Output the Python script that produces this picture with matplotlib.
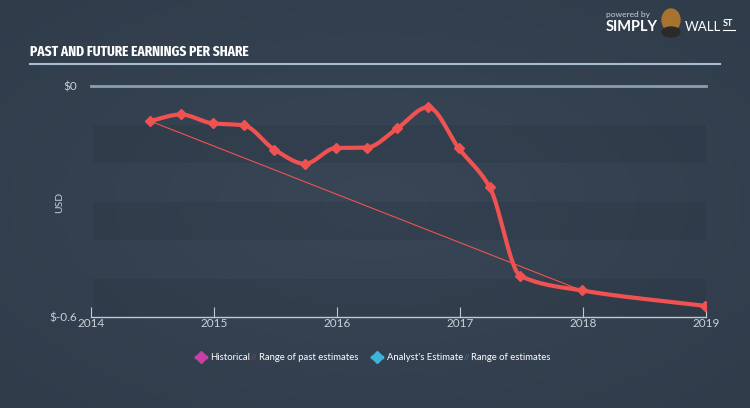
import numpy as np
import matplotlib
matplotlib.use("Agg")
import matplotlib.pyplot as plt
from matplotlib import font_manager as fm
from matplotlib.lines import Line2D
from matplotlib.patches import Rectangle, Ellipse

# ---- data ----
eps_x = [2014.48, 2014.73, 2014.99, 2015.24, 2015.49, 2015.74, 2015.99, 2016.24,
         2016.49, 2016.74, 2016.99, 2017.24, 2017.49, 2017.99, 2018.99]
eps_y = [-0.091, -0.074, -0.097, -0.102, -0.165, -0.202, -0.161, -0.160,
         -0.110, -0.055, -0.162, -0.262, -0.493, -0.531, -0.571]
est_x = [2014.48, 2017.99]
est_y = [-0.091, -0.531]
year_ticks = [2014, 2015, 2016, 2017, 2018, 2019]
y_ticks = [0, -0.6]
y_labels = ["$0", "$-0.6"]
legend_labels = ["Historical", "Range of past estimates", "Analyst's Estimate", "Range of estimates"]
title = "PAST AND FUTURE EARNINGS PER SHARE"

BG = "#354251"
RED = "#f05252"
TXT = "#c9d1da"
FONT = "Lato"

def pick_condensed_bold():
    best = None
    for f in fm.fontManager.ttflist:
        name = f.fname.replace("-", "").replace("_", "").lower()
        if "condensed" in name and "bold" in name and "semibold" not in name \
                and "extrabold" not in name and "italic" not in name:
            if "extracondensed" in name:
                score = 3
            elif "semicondensed" in name:
                score = 1
            else:
                score = 2
            if "notosans" in name.replace(" ", "") and "mono" not in name:
                score += 0.5
            if best is None or score > best[0]:
                best = (score, f.fname)
    if best:
        return fm.FontProperties(fname=best[1])
    return fm.FontProperties(family="DejaVu Sans", stretch="condensed", weight="bold")

def monotone_curve(x, y, n=30):
    x = np.asarray(x, float); y = np.asarray(y, float)
    h = np.diff(x); d = np.diff(y) / h
    m = np.zeros_like(y)
    m[0] = d[0]; m[-1] = d[-1]
    for i in range(1, len(y) - 1):
        if d[i - 1] * d[i] <= 0:
            m[i] = 0
        else:
            w1 = 2 * h[i] + h[i - 1]; w2 = h[i] + 2 * h[i - 1]
            m[i] = (w1 + w2) / (w1 / d[i - 1] + w2 / d[i])
    xs, ys = [], []
    for i in range(len(x) - 1):
        t = np.linspace(0, 1, n, endpoint=False)
        h00 = 2*t**3 - 3*t**2 + 1; h10 = t**3 - 2*t**2 + t
        h01 = -2*t**3 + 3*t**2; h11 = t**3 - t**2
        xs.append(x[i] + t * h[i])
        ys.append(h00*y[i] + h10*h[i]*m[i] + h01*y[i+1] + h11*h[i]*m[i+1])
    xs.append([x[-1]]); ys.append([y[-1]])
    return np.concatenate(xs), np.concatenate(ys)

W, H = 750, 408
fig = plt.figure(figsize=(7.5, 4.08), dpi=100)
fig.patch.set_facecolor(BG)

def fx(px): return px / W
def fy(py): return 1 - py / H

# subtle radial background gradient
bgax = fig.add_axes([0, 0, 1, 1], zorder=-10)
gx, gy = np.meshgrid(np.linspace(-1, 1, 150), np.linspace(-1, 1, 82))
r = np.clip(np.sqrt(gx**2 + gy**2) / 1.4, 0, 1)
c0 = np.array([0x38, 0x46, 0x56]) / 255
c1 = np.array([0x30, 0x3c, 0x4a]) / 255
img = c0[None, None, :] * (1 - r[..., None]) + c1[None, None, :] * r[..., None]
bgax.imshow(img, aspect="auto", extent=[0, 1, 0, 1], interpolation="bilinear")
bgax.axis("off")

ax = fig.add_axes([fx(91), fy(317), fx(706) - fx(91), fy(86) - fy(317)])
ax.set_facecolor("none")
ax.set_xlim(2014, 2019)
ax.set_ylim(-0.6, 0)

# background bands
for top in [-0.1, -0.3, -0.5]:
    ax.add_patch(Rectangle((2014.02, top - 0.1), 4.98, 0.1, facecolor="#26303c",
                           alpha=0.22, edgecolor="none", zorder=0))

# zero line
ax.axhline(0, color="#8d9db0", lw=2, zorder=1, clip_on=False)

# estimate thin line
ax.plot(est_x, est_y, color=RED, lw=0.8, zorder=2)

# main curve
cx, cy = monotone_curve(eps_x, eps_y)
ax.plot(cx, cy, color=RED, lw=3, zorder=3, solid_capstyle="round")
ax.plot(eps_x, eps_y, linestyle="none", marker="D", markersize=5, color=RED, zorder=4)

for s in ["top", "right", "left"]:
    ax.spines[s].set_visible(False)
ax.spines["bottom"].set_color("#c0c8d2")
ax.spines["bottom"].set_linewidth(1)
ax.set_xticks(year_ticks)
ax.set_xticklabels([str(y) for y in year_ticks], family=FONT)
ax.tick_params(axis="x", direction="in", length=7, color="#c0c8d2", labelsize=8.5,
               labelcolor=TXT, pad=1)
ax.set_yticks(y_ticks)
ax.set_yticklabels(y_labels, family=FONT)
ax.tick_params(axis="y", length=0, labelsize=8.5, labelcolor=TXT, pad=10)
fig.text(fx(60), fy(202), "USD", color=TXT, fontsize=7.5, rotation=90,
         ha="center", va="center", family=FONT)

# title
tfp = pick_condensed_bold()
tfp.set_size(10.5)
fig.text(fx(30), fy(52), title, color="white", fontproperties=tfp,
         va="center", ha="left")
fig.add_artist(Line2D([fx(30), fx(720)], [fy(64), fy(64)], color="#a8bccf", lw=1.5))

# legend
ly = fy(357)
LFS = 6.8
fig.add_artist(Line2D([fx(196), fx(206)], [ly, ly], color="#c83fa5", lw=2.5))
fig.add_artist(Line2D([fx(201)], [ly], marker="D", markersize=6, color="#c83fa5"))
fig.text(fx(210), ly, legend_labels[0], color="white", fontsize=LFS, va="center", family=FONT)
fig.text(fx(251), ly, "//", color="#8a4a80", fontsize=5, va="center", family=FONT)
fig.text(fx(259), ly, legend_labels[1], color="white", fontsize=LFS, va="center", family=FONT)
fig.add_artist(Line2D([fx(372), fx(382)], [ly, ly], color="#3cb4dc", lw=2.5))
fig.add_artist(Line2D([fx(377)], [ly], marker="D", markersize=6, color="#3cb4dc"))
fig.text(fx(387), ly, legend_labels[2], color="white", fontsize=LFS, va="center", family=FONT)
fig.text(fx(464), ly, "//", color="#4a8aa8", fontsize=5, va="center", family=FONT)
fig.text(fx(471), ly, legend_labels[3], color="white", fontsize=LFS, va="center", family=FONT)

# logo
fig.text(fx(606), fy(15), "powered by", color="#c9d1da", fontsize=6, va="center", family=FONT)
fig.text(fx(606), fy(27), "SIMPLY", color="white", fontsize=10.5, fontweight="bold",
         va="center", family=FONT)
fig.text(fx(685), fy(27), "WALL", color="white", fontsize=9.5, va="center", family=FONT)
fig.text(fx(723), fy(24), "ST", color="white", fontsize=6.5, fontweight="bold", va="center", family=FONT)
fig.add_artist(Line2D([fx(723), fx(735)], [fy(30), fy(30)], color="white", lw=0.8))
fig.add_artist(Ellipse((fx(671), fy(20)), 18 / W, 22 / H, color="#a8732f"))
fig.add_artist(Ellipse((fx(671), fy(32)), 18 / W, 10 / H, color="#2a2a2a"))

fig.savefig("out.png", dpi=100, facecolor=BG)
